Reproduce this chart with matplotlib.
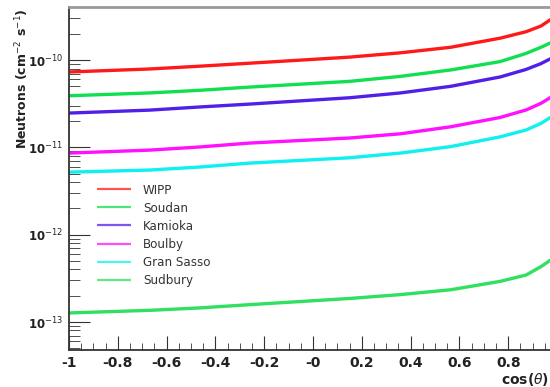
import matplotlib
matplotlib.use("Agg")
import matplotlib.pyplot as plt
from matplotlib.ticker import FixedLocator, MultipleLocator, LogLocator, NullFormatter

# cos(theta) sample points
cos_theta = [-1.0, -0.67, -0.465, -0.26, 0.15, 0.358, 0.564, 0.767, 0.873, 0.934, 0.975, 1.0]

wipp = [7.3e-11, 7.9e-11, 8.5e-11, 9.2e-11, 1.08e-10, 1.21e-10, 1.40e-10, 1.78e-10, 2.11e-10, 2.45e-10, 2.92e-10, 3.4e-10]
soudan = [3.9e-11, 4.2e-11, 4.5e-11, 4.9e-11, 5.7e-11, 6.5e-11, 7.7e-11, 9.6e-11, 1.19e-10, 1.40e-10, 1.58e-10, 1.85e-10]
kamioka = [2.47e-11, 2.67e-11, 2.9e-11, 3.13e-11, 3.7e-11, 4.2e-11, 5.0e-11, 6.4e-11, 7.8e-11, 9.1e-11, 1.04e-10, 1.2e-10]
boulby = [8.6e-12, 9.3e-12, 1.01e-11, 1.12e-11, 1.28e-11, 1.43e-11, 1.72e-11, 2.2e-11, 2.68e-11, 3.19e-11, 3.75e-11, 4.4e-11]
gran_sasso = [5.2e-12, 5.5e-12, 5.95e-12, 6.6e-12, 7.6e-12, 8.6e-12, 1.02e-11, 1.32e-11, 1.58e-11, 1.88e-11, 2.22e-11, 2.7e-11]
sudbury = [1.27e-13, 1.36e-13, 1.45e-13, 1.58e-13, 1.86e-13, 2.06e-13, 2.34e-13, 2.92e-13, 3.45e-13, 4.3e-13, 5.15e-13, 6.3e-13]

labels = ["WIPP", "Soudan", "Kamioka", "Boulby", "Gran Sasso", "Sudbury"]
colors = ["#ff1a1a", "#10e050", "#5020e8", "#ff10ff", "#10f0f0", "#30e060"]
series = [wipp, soudan, kamioka, boulby, gran_sasso, sudbury]

x_ticks = [-1, -0.8, -0.6, -0.4, -0.2, 0, 0.2, 0.4, 0.6, 0.8, 1]
x_tick_labels = ["-1", "-0.8", "-0.6", "-0.4", "-0.2", "-0", "0.2", "0.4", "0.6", "0.8", ""]

fig = plt.figure(figsize=(5.5, 3.87), dpi=100)
ax = fig.add_axes([69 / 550, 37 / 387, 488 / 550, 343 / 387])

for vals, lab, col in zip(series, labels, colors):
    ax.plot(cos_theta, vals, color=col, lw=2.4, label=lab, solid_capstyle="butt")

ax.set_yscale("log")
ax.set_xlim(-1, 1)
ax.set_ylim(4.78e-14, 4.05e-10)

ax.xaxis.set_major_locator(FixedLocator(x_ticks))
ax.set_xticklabels(x_tick_labels, fontweight="bold", fontsize=10, color="#222222")
ax.xaxis.set_minor_locator(MultipleLocator(0.05))
ax.yaxis.set_minor_locator(LogLocator(base=10, subs=range(2, 10), numticks=20))
ax.yaxis.set_minor_formatter(NullFormatter())
ax.set_yticks([1e-13, 1e-12, 1e-11, 1e-10])
ax.set_yticklabels([r"10$^{-13}$", r"10$^{-12}$", r"10$^{-11}$", r"10$^{-10}$"],
                   fontweight="bold", fontsize=8.5, color="#222222")

ax.tick_params(axis="both", which="both", direction="in", top=False, right=False, color="#333333")
ax.tick_params(axis="x", which="major", length=10, pad=4)
ax.tick_params(axis="x", which="minor", length=5)
ax.tick_params(axis="y", which="major", length=15, pad=4)
ax.tick_params(axis="y", which="minor", length=8)

for side in ["left", "bottom"]:
    ax.spines[side].set_color("#333333")
    ax.spines[side].set_linewidth(1.3)
ax.spines["top"].set_color("#999999")
ax.spines["top"].set_linewidth(2)

ax.set_ylabel(r"Neutrons (cm$^{-2}$ s$^{-1}$)", fontsize=9, fontweight="bold", color="#222222")
ax.yaxis.set_label_coords(-0.078, 0.995)
ax.yaxis.label.set_horizontalalignment("right")

# keep the axis title inside the figure (the frame runs past the right edge)
ax.set_xlabel(r"cos($\theta$)", fontsize=10, fontweight="bold", color="#222222")
ax.xaxis.set_label_coords(0.983, -0.062)
ax.xaxis.label.set_horizontalalignment("right")

leg = ax.legend(loc="upper left", bbox_to_anchor=(0.057, 0.485), frameon=False,
                fontsize=8.6, handlelength=2.9, handletextpad=0.95, labelspacing=0.42,
                borderpad=0, borderaxespad=0)
for line in leg.get_lines():
    line.set_linewidth(1.6)
    line.set_alpha(0.75)
for t in leg.get_texts():
    t.set_color("#333333")

fig.savefig("out.png", dpi=100)
